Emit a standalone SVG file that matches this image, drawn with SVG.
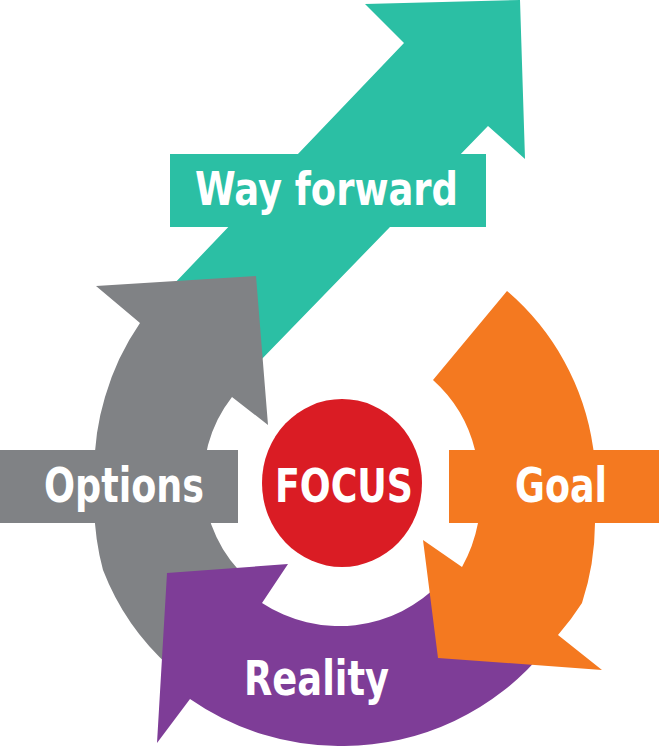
<svg xmlns="http://www.w3.org/2000/svg" width="659" height="746" viewBox="0 0 659 746">
  <style>
    .lbl { fill: #ffffff; font-family: "Liberation Sans Narrow", "DejaVu Sans Condensed", "Liberation Sans", sans-serif; font-weight: bold; }
    .teal { fill: #2bbfa4; }
    .gray { fill: #808285; }
    .purple { fill: #7e3d97; }
    .orange { fill: #f47920; }
    .red { fill: #da1c24; }
  </style>
  <rect width="659" height="746" fill="#ffffff"/>

  <g id="way-forward">
    <path class="teal" d="M365,4 L520,0 L525,159 L488,126 L258,363 L172,286 L404,43 Z"/>
    <rect class="teal" x="170" y="154" width="316" height="73"/>
    <text class="lbl" x="195" y="205" font-size="46" textLength="263" lengthAdjust="spacingAndGlyphs">Way forward</text>
  </g>

  <g id="options">
    <path class="gray" d="M140,323 L96,286 L256,276 L268,425 L232,397 A134,134 0 0 0 259.5,588.6 L170,667 A252,252 0 0 1 103,570 A252,252 0 0 1 95,486 A252,252 0 0 1 105,397 A255,255 0 0 1 140,323 Z"/>
    <rect class="gray" x="0" y="450" width="238" height="73"/>
    <text class="lbl" x="44" y="501.5" font-size="48" textLength="160" lengthAdjust="spacingAndGlyphs">Options</text>
  </g>

  <g id="reality">
    <path class="purple" d="M167,573 L288,564 L262,603 A140,140 0 0 0 441,582 L545,650 A260,260 0 0 1 342,746 A263,263 0 0 1 190,699 L157,743 Z"/>
    <text class="lbl" x="244" y="695" font-size="48" textLength="145" lengthAdjust="spacingAndGlyphs">Reality</text>
  </g>

  <g id="goal">
    <path class="orange" d="M433,380 L507,291 A253,253 0 0 1 593,447 A255,255 0 0 1 595,523 A260,260 0 0 1 582,603 A265,265 0 0 1 558,635 L602,670 L438,658 L423,540 L462,567 A146,146 0 0 0 478,523 A142,142 0 0 0 475,450 A138,138 0 0 0 433,380 Z"/>
    <rect class="orange" x="449" y="450" width="210" height="73"/>
    <text class="lbl" x="515" y="501.5" font-size="48" textLength="92" lengthAdjust="spacingAndGlyphs">Goal</text>
  </g>

  <g id="focus">
    <ellipse class="red" cx="342" cy="483" rx="80" ry="84"/>
    <text class="lbl" x="275" y="501.5" font-size="47" textLength="138" lengthAdjust="spacingAndGlyphs">FOCUS</text>
  </g>
</svg>
